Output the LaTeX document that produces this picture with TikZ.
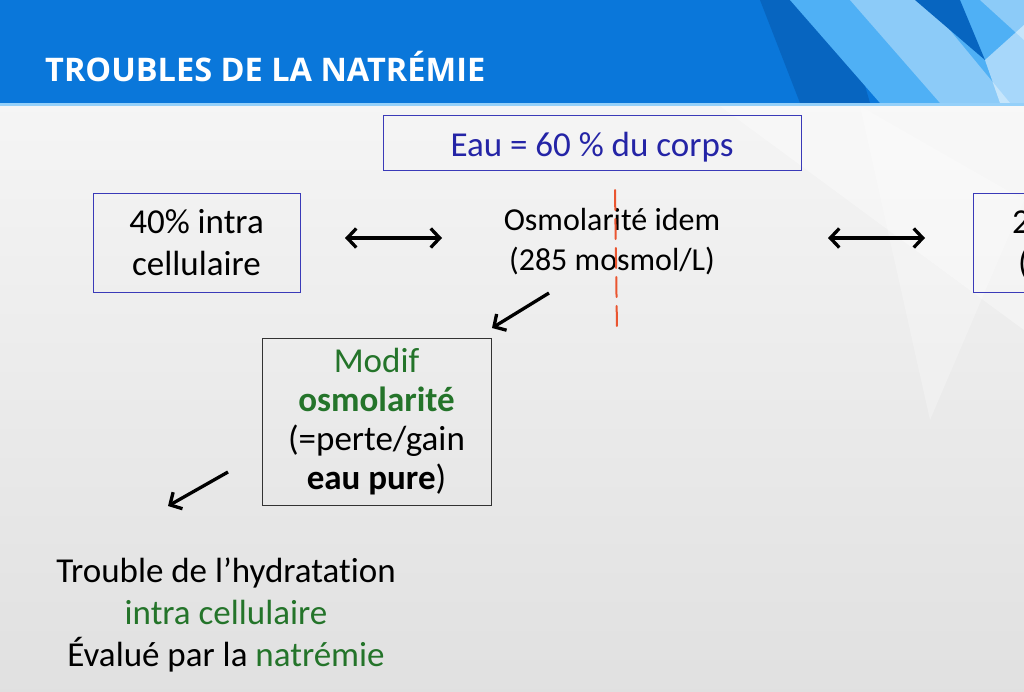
\documentclass[tikz,border=0pt]{standalone}
\usepackage{fontspec}
\setmainfont[Ligatures=NoCommon]{Carlito}
\newfontfamily\titlefont{Open Sans}
\usetikzlibrary{arrows.meta}
\definecolor{hdr}{HTML}{0A77DA}
\definecolor{hdrlight}{HTML}{4FB0F5}
\definecolor{hdrpale}{HTML}{8CCBF8}
\definecolor{hdrdark}{HTML}{0765C0}
\definecolor{boxblue}{HTML}{3A3AB8}
\definecolor{txtblue}{HTML}{2424A6}
\definecolor{grn}{HTML}{24742A}
\definecolor{redpen}{HTML}{EA5530}
\tikzset{
  txt/.style={font=\fontsize{35}{42}\selectfont, align=center, inner sep=0pt},
  bluebox/.style={draw=boxblue, line width=1pt, txt},
  graybox/.style={draw=black!80, line width=1pt, txt},
  arr/.style={line width=3.3pt, -{Straight Barb[length=9pt,width=19pt,line width=3.3pt]}},
  darr/.style={line width=3.3pt, {Straight Barb[length=9pt,width=19pt,line width=3.3pt]}-{Straight Barb[length=9pt,width=19pt,line width=3.3pt]}}
}
\begin{document}
\begin{tikzpicture}[x=1pt,y=-1pt]
\useasboundingbox (0,0) rectangle (1024,691);
% background
\shade[top color=white!96!black, bottom color=black!12] (0,103) rectangle (1024,691);
\fill[white, opacity=0.35] (720,106) -- (1024,106) -- (1024,330) -- cycle;
\fill[white, opacity=0.25] (860,106) -- (1024,200) -- (930,420) -- cycle;
% header
\fill[hdr] (0,0) rectangle (1024,103);
\fill[hdrdark] (760,0) -- (840,0) -- (870,103) -- (800,103) -- cycle;
\fill[hdrlight] (790,0) -- (1024,0) -- (1024,103) -- (880,103) -- cycle;
\fill[hdrpale] (850,0) -- (925,0) -- (1010,103) -- (940,103) -- cycle;
\fill[hdrdark] (915,0) -- (960,0) -- (985,60) -- cycle;
\fill[hdrpale] (980,0) -- (1024,0) -- (1024,40) -- cycle;
\fill[white, opacity=0.5] (985,60) -- (1024,25) -- (1024,103) -- (1000,103) -- cycle;
\fill[hdrlight!60!white] (0,103) rectangle (1024,106);
\node[anchor=base west, text=white, inner sep=0pt,
      font=\titlefont\bfseries\fontsize{32.5}{32.5}\selectfont] (title) at (45,81) {TROUBLES DE LA NATRÉMIE};
% boxes
\node[bluebox, text=txtblue, minimum width=418pt, minimum height=55pt, text depth=0pt] (eau) at (592,142.5) {\raisebox{-3pt}{Eau = 60 \% du corps}};
\node[bluebox, minimum width=207pt, minimum height=99pt] (intra) at (196.5,242.5) {40\% intra\\cellulaire};
\node[txt, font=\fontsize{32}{40}\selectfont] (osm) at (612,242) {Osmolarité idem\\(285 mosmol/L)};
\node[bluebox, minimum width=200pt, minimum height=99pt, anchor=west] (extra) at (973,242.5) {};
\node[txt, anchor=west] (extratxt) at (1012,222) {2};
\node[txt, anchor=west] (extratxt2) at (1018,264) {(};
\node[graybox, minimum width=229pt, minimum height=167pt, font=\fontsize{35}{39}\selectfont] (modif) at (376.5,421.5)
  {\textcolor{grn}{Modif}\\\textcolor{grn}{\bfseries osmolarité}\\(=perte/gain\\{\bfseries eau pure})};
\node[txt] (trouble) at (226,615) {Trouble de l’hydratation\\\textcolor{grn}{intra cellulaire}\\Évalué par la \textcolor{grn}{natrémie}};
% connectors
\coordinate (d1a) at (345,238); \coordinate (d1b) at (442,238);
\coordinate (d2a) at (828,238); \coordinate (d2b) at (925,238);
\coordinate (s1) at (549,293); \coordinate (e1) at (492,328);
\coordinate (s2) at (228,472); \coordinate (e2) at (168,506);
\draw[darr] (d1a) -- (d1b);
\draw[darr] (d2a) -- (d2b);
\draw[arr] (s1) -- (e1);
\draw[arr] (s2) -- (e2);
% red hand-drawn dashed line
\coordinate (r1) at (615,190); \coordinate (r2) at (617,330);
\draw[redpen, line width=2pt, dash pattern=on 20pt off 9pt, line cap=round] (r1) -- (r2);
\end{tikzpicture}
\end{document}
